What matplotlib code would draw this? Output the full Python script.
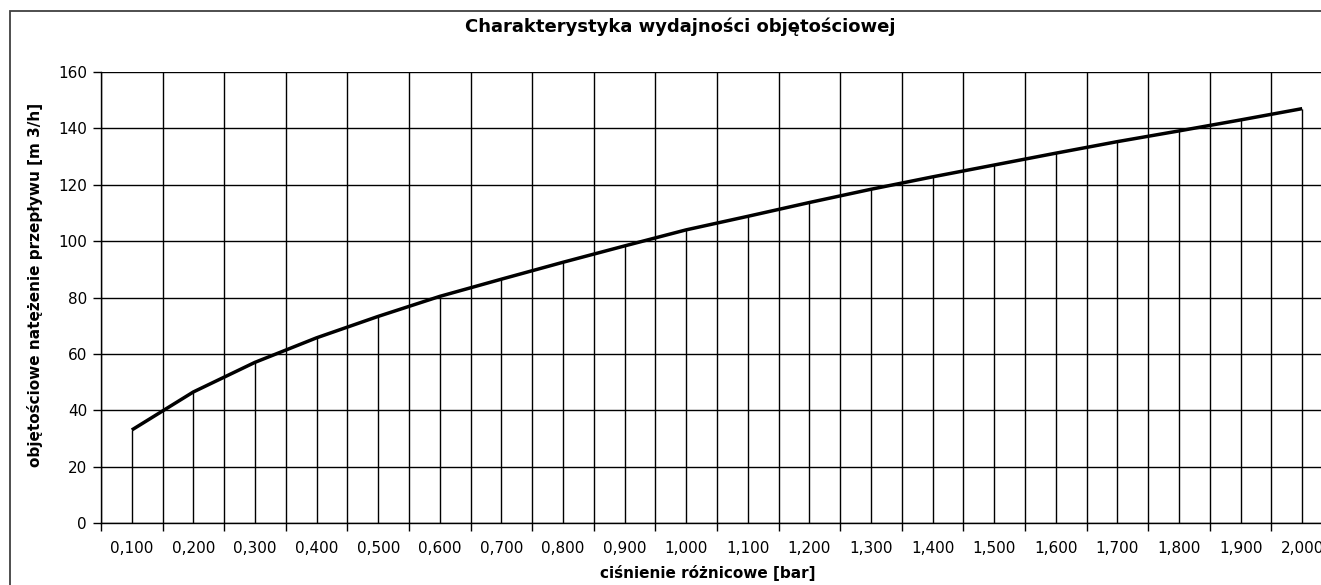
import matplotlib.pyplot as plt
from matplotlib.patches import Rectangle

# dane
cisnienie = ["0,100", "0,200", "0,300", "0,400", "0,500", "0,600", "0,700", "0,800", "0,900", "1,000",
             "1,100", "1,200", "1,300", "1,400", "1,500", "1,600", "1,700", "1,800", "1,900", "2,000"]
przeplyw = [33, 46.5, 57, 65.7, 73.3, 80.4, 86.5, 92.5, 98.3, 104,
            108.8, 113.7, 118.4, 122.8, 127, 131.2, 135.3, 139.1, 143, 147]
y_ticks = [0, 20, 40, 60, 80, 100, 120, 140, 160]

plt.rcParams['font.family'] = ['DejaVu Sans']

W, H = 1321, 585
fig = plt.figure(figsize=(W / 100, H / 100), dpi=100)
fig.patch.set_facecolor('white')

# ramka wykresu (obcięta z prawej i od dołu)
fig.patches.append(Rectangle((10 / W, -0.1), 1.2, 1 - 11 / H + 0.1, transform=fig.transFigure,
                             fill=False, edgecolor='#404040', linewidth=1.3))

ax = fig.add_axes([101 / W, 62 / H, 1232 / W, 451 / H])
x = list(range(len(cisnienie)))

ax.set_xlim(-0.5, len(cisnienie) - 0.5)
ax.set_ylim(0, 160)

# linie siatki
for yv in y_ticks:
    ax.axhline(yv, color='black', linewidth=1.0, zorder=1)
for xb in range(len(cisnienie) + 1):
    ax.axvline(xb - 0.5, color='black', linewidth=1.0, zorder=1)

# linie spadku od punktów do osi
ax.vlines(x, 0, przeplyw, color='black', linewidth=1.0, zorder=1)
ax.plot(x, przeplyw, color='black', linewidth=2.5, zorder=3, solid_capstyle='butt')

ax.set_yticks(y_ticks)
ax.tick_params(axis='y', length=6, width=1, labelsize=11, pad=4)
ax.set_xticks([xb - 0.5 for xb in range(len(cisnienie) + 1)])
ax.set_xticklabels([])
ax.tick_params(axis='x', which='major', length=6, width=1)
ax.set_xticks(x, minor=True)
ax.set_xticklabels(cisnienie, minor=True, fontsize=11)
ax.tick_params(axis='x', which='minor', length=0, pad=13)

for s in ['top', 'right']:
    ax.spines[s].set_visible(False)
for s in ['left', 'bottom']:
    ax.spines[s].set_linewidth(1.0)

fig.text(680 / W, 1 - 27 / H, "Charakterystyka wydajności objętościowej", ha='center', va='center',
         fontsize=13, fontweight='bold')
fig.text(708 / W, 1 - 573 / H, "ciśnienie różnicowe [bar]", ha='center', va='center',
         fontsize=11, fontweight='bold')
fig.text(35 / W, 1 - 285 / H, "objętościowe natężenie przepływu [m 3/h]", ha='center', va='center',
         rotation=90, fontsize=11, fontweight='bold')

fig.savefig('out.png', dpi=100)
